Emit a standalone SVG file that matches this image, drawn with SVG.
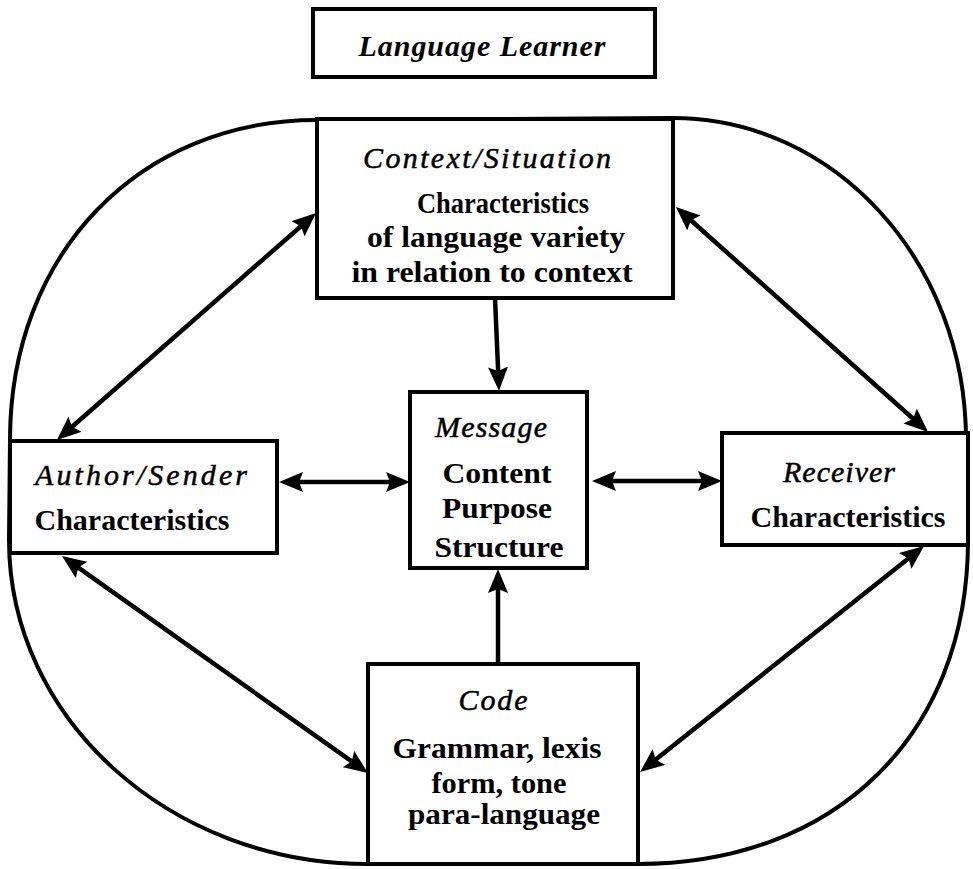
<svg xmlns="http://www.w3.org/2000/svg" width="973" height="869" viewBox="0 0 973 869">
  <style>
    .box { fill: #fff; stroke: #000; stroke-width: 4; }
    .loop { fill: none; stroke: #000; stroke-width: 4; }
    .conn { stroke: #000; stroke-width: 4.5; fill: none; }
    .head { font-family: "Liberation Serif", "Times New Roman", serif; font-style: italic; font-size: 30px; fill: #000; stroke: #000; stroke-width: 0.5; text-anchor: middle; }
    .body { font-family: "Liberation Serif", "Times New Roman", serif; font-weight: bold; font-size: 30px; fill: #000; text-anchor: middle; }
    .title { font-family: "Liberation Serif", "Times New Roman", serif; font-style: italic; font-weight: bold; font-size: 30px; fill: #000; text-anchor: middle; }
  </style>
  <defs>
    <marker id="arrow" markerUnits="userSpaceOnUse" markerWidth="24" markerHeight="20" viewBox="0 0 24 20" refX="10" refY="10" orient="auto-start-reverse">
      <path d="M0,0 L24,10 L0,20 L4,10 z" fill="#000"/>
    </marker>
  </defs>
  <rect width="973" height="869" fill="#fff"/>

  <!-- outer boundary enclosing the communication model -->
  <path class="loop" d="M317,120 C139,120 10,254 10,440 L9,540 C9,719 170,864 368,864 L638,864 C836,864 968,734 968,540 L966,440 C966,262 835,118 673,118 Z"/>

  <g id="language-learner">
    <rect class="box" x="313" y="9" width="342" height="68"/>
    <text class="title" x="482" y="56" textLength="247">Language Learner</text>
  </g>

  <g id="context">
    <rect class="box" x="317" y="119" width="356" height="179"/>
    <text class="head" x="487" y="168" textLength="248">Context/Situation</text>
    <text class="body" x="503" y="213" font-size="27" textLength="172" lengthAdjust="spacingAndGlyphs">Characteristics</text>
    <text class="body" x="496" y="247" textLength="258" lengthAdjust="spacingAndGlyphs">of language variety</text>
    <text class="body" x="492" y="282" textLength="281" lengthAdjust="spacingAndGlyphs">in relation to context</text>
  </g>

  <g id="author">
    <rect class="box" x="10" y="441" width="267" height="112"/>
    <text class="head" x="141" y="485" textLength="212">Author/Sender</text>
    <text class="body" x="132" y="530" textLength="195" lengthAdjust="spacingAndGlyphs">Characteristics</text>
  </g>

  <g id="message">
    <rect class="box" x="410" y="392" width="177" height="176"/>
    <text class="head" x="491" y="437" textLength="112">Message</text>
    <text class="body" x="497" y="483" textLength="109" lengthAdjust="spacingAndGlyphs">Content</text>
    <text class="body" x="497" y="518" textLength="110" lengthAdjust="spacingAndGlyphs">Purpose</text>
    <text class="body" x="499" y="557" textLength="129" lengthAdjust="spacingAndGlyphs">Structure</text>
  </g>

  <g id="receiver">
    <rect class="box" x="722" y="433" width="246" height="112"/>
    <text class="head" x="839" y="482" textLength="112">Receiver</text>
    <text class="body" x="848" y="527" textLength="195" lengthAdjust="spacingAndGlyphs">Characteristics</text>
  </g>

  <g id="code">
    <rect class="box" x="368" y="664" width="270" height="200"/>
    <text class="head" x="493" y="710" textLength="69">Code</text>
    <text class="body" x="497" y="758" textLength="209" lengthAdjust="spacingAndGlyphs">Grammar, lexis</text>
    <text class="body" x="499" y="793" textLength="135" lengthAdjust="spacingAndGlyphs">form, tone</text>
    <text class="body" x="504" y="824" textLength="192" lengthAdjust="spacingAndGlyphs">para-language</text>
  </g>

  <g id="connectors">
    <line class="conn" x1="495" y1="298" x2="498.4" y2="377" marker-end="url(#arrow)"/>
    <line class="conn" x1="498" y1="664" x2="498" y2="583" marker-end="url(#arrow)"/>
    <line class="conn" x1="293" y1="482" x2="396" y2="482" marker-start="url(#arrow)" marker-end="url(#arrow)"/>
    <line class="conn" x1="606" y1="481" x2="708" y2="481" marker-start="url(#arrow)" marker-end="url(#arrow)"/>
    <line class="conn" x1="67.5" y1="430.8" x2="305.5" y2="222.2" marker-start="url(#arrow)" marker-end="url(#arrow)"/>
    <line class="conn" x1="686.4" y1="216.3" x2="917.6" y2="422.7" marker-start="url(#arrow)" marker-end="url(#arrow)"/>
    <line class="conn" x1="73.4" y1="564.1" x2="356.6" y2="764.9" marker-start="url(#arrow)" marker-end="url(#arrow)"/>
    <line class="conn" x1="913.1" y1="554.7" x2="651" y2="763.3" marker-start="url(#arrow)" marker-end="url(#arrow)"/>
  </g>
</svg>
